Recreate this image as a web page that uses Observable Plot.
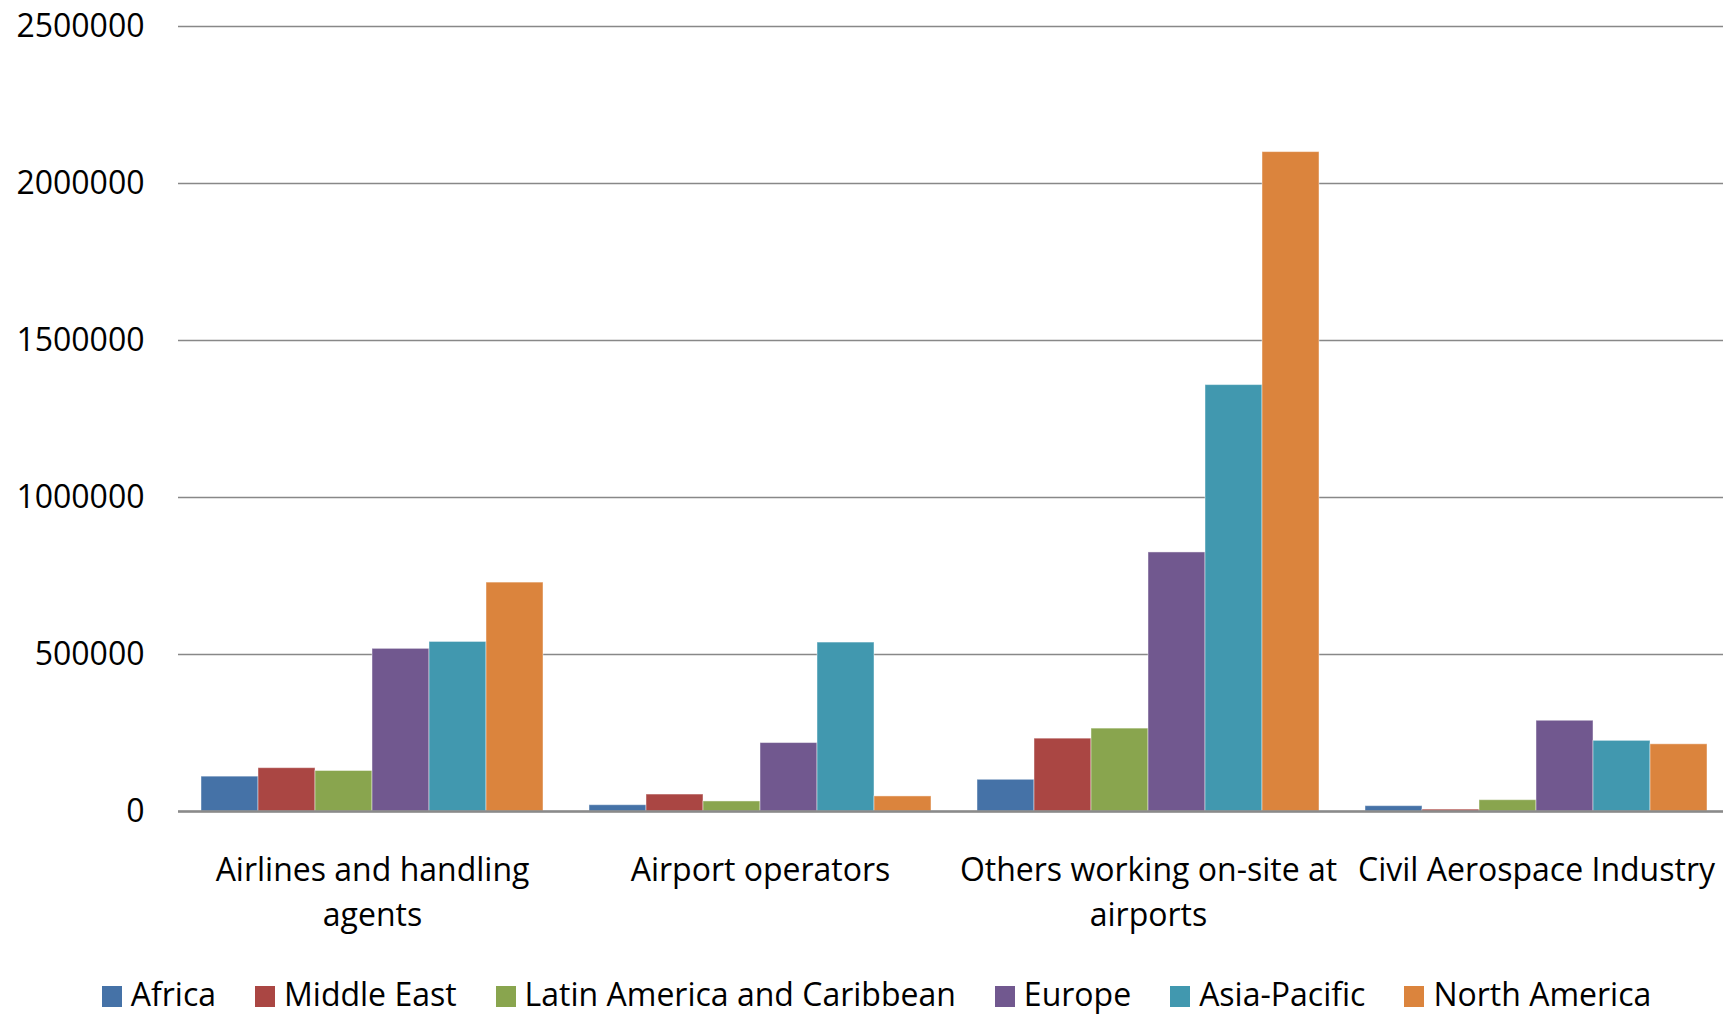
<!DOCTYPE html>
<html>
<head>
<meta charset="utf-8">
<script src="https://cdn.jsdelivr.net/npm/d3@7"></script>
<script src="https://cdn.jsdelivr.net/npm/@observablehq/plot@0.6"></script>
<style>
  html, body { margin: 0; padding: 0; background: #fff; overflow: hidden; }
  body { width: 1723px; height: 1014px; font-family: "Open Sans", sans-serif; }
  #chart { width: 1723px; overflow: hidden; height: 950px; }
  #chart svg { max-width: none !important; }
  #legend { display: flex; justify-content: center; align-items: center; height: 64px; font-size: 32px; color: #000; padding-left: 30px; padding-top: 22px; box-sizing: border-box; }
  #legend .item { display: flex; align-items: center; margin: 0 19.5px; }
  #legend .sw { width: 20px; height: 21px; margin-right: 9px; margin-top: 6px; }
</style>
</head>
<body>
<div id="chart"></div>
<div id="legend"></div>
<script>
const categories = ["Airlines and handling agents", "Airport operators", "Others working on-site at airports", "Civil Aerospace Industry"];
const categoryLabels = ["Airlines and handling\nagents", "Airport operators", "Others working on-site at\nairports", "Civil Aerospace Industry"];
const regions = ["Africa", "Middle East", "Latin America and Caribbean", "Europe", "Asia-Pacific", "North America"];
const colors = ["#4572A7", "#AA4643", "#89A54E", "#71588F", "#4198AF", "#DB843D"];
const africa = [111000, 20000, 101000, 17000];
const middleEast = [138000, 54000, 232000, 6000];
const latinAmerica = [129000, 32000, 264000, 36000];
const europe = [518000, 218000, 825000, 289000];
const asiaPacific = [540000, 538000, 1358000, 225000];
const northAmerica = [729000, 48000, 2100000, 214000];
const yTicks = [0, 500000, 1000000, 1500000, 2000000, 2500000];

const series = [africa, middleEast, latinAmerica, europe, asiaPacific, northAmerica];
const data = [];
categories.forEach((c, i) => {
  regions.forEach((r, j) => data.push({category: c, region: r, value: series[j][i]}));
});
const labelOf = new Map(categories.map((c, i) => [c, categoryLabels[i]]));

const chart = Plot.plot({
  width: 1730,
  height: 950,
  marginLeft: 177,
  marginRight: 0,
  marginTop: 26,
  marginBottom: 139,
  style: {fontFamily: "'Open Sans', sans-serif", fontSize: "32px", color: "#000", background: "#fff", maxWidth: "none"},
  fx: {domain: categories, padding: 0, label: null},
  x: {domain: regions, axis: null, paddingInner: 0, paddingOuter: 0.377},
  y: {domain: [0, 2500000], label: null},
  color: {domain: regions, range: colors},
  marks: [
    Plot.ruleY(yTicks, {stroke: "#888", strokeWidth: 1.5}),
    Plot.barY(data, {fx: "category", x: "region", y: "value", fill: "region", stroke: "#fff", strokeOpacity: 0.45, strokeWidth: 1}),
    Plot.ruleY([0], {stroke: "#8a8a8a", strokeWidth: 2.5}),
    Plot.axisY({ticks: yTicks, tickSize: 0, tickPadding: 34, tickFormat: d => String(d), fontSize: 32, label: null}),
    Plot.axisFx({anchor: "bottom", tickSize: 0, tickPadding: 37, tickFormat: d => labelOf.get(d), lineHeight: 1.42, fontSize: 32, label: null})
  ]
});
document.getElementById("chart").appendChild(chart);

const legend = document.getElementById("legend");
regions.forEach((r, i) => {
  const item = document.createElement("div");
  item.className = "item";
  const sw = document.createElement("span");
  sw.className = "sw";
  sw.style.background = colors[i];
  const t = document.createElement("span");
  t.textContent = r;
  item.appendChild(sw);
  item.appendChild(t);
  legend.appendChild(item);
});
</script>
</body>
</html>
